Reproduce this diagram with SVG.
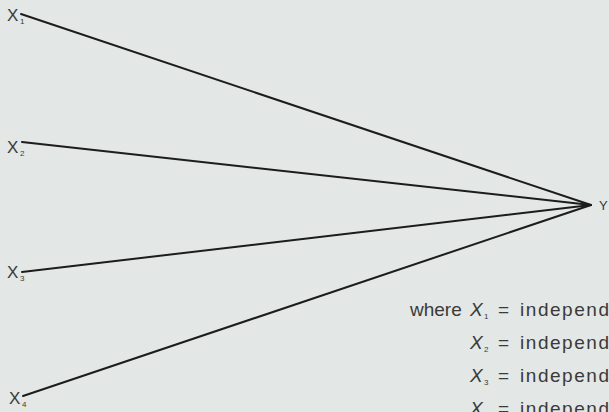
<svg xmlns="http://www.w3.org/2000/svg" width="609" height="412" viewBox="0 0 609 412">
<style>
.lbl{font-family:"Liberation Sans",Arial,sans-serif;fill:#3a3a3a;}
.big{font-size:17px;}
.leg{font-size:19px;}
.it{font-style:italic;}
.sub{font-size:8px;}
.conn line{stroke:#1c1c1c;stroke-width:2;stroke-linecap:round;}
</style>
<rect width="609" height="412" fill="#e3e7e5"/>
<g id="connectors" class="conn">
<line x1="21" y1="14" x2="591" y2="205"/>
<line x1="22" y1="142" x2="591" y2="205"/>
<line x1="22" y1="272" x2="591" y2="205"/>
<line x1="23" y1="396" x2="591" y2="205"/>
</g>
<g id="x1"><text class="lbl big" x="7" y="21">X</text><text class="lbl sub" x="20" y="24">1</text></g>
<g id="x2"><text class="lbl big" x="7" y="153">X</text><text class="lbl sub" x="20" y="156">2</text></g>
<g id="x3"><text class="lbl big" x="7" y="278">X</text><text class="lbl sub" x="20" y="281">3</text></g>
<g id="x4"><text class="lbl big" x="9" y="404">X</text><text class="lbl sub" x="22" y="407">4</text></g>
<g id="y"><text class="lbl" font-size="13" x="599" y="210">Y</text></g>
<g id="legend">
<text class="lbl leg" x="410" y="316">where</text>
<text class="lbl leg it" x="470" y="316">X</text><text class="lbl sub" x="484" y="319">1</text>
<text class="lbl leg" x="498" y="316">=</text>
<text class="lbl leg" x="520" y="316" textLength="89" lengthAdjust="spacing">independ</text>
<text class="lbl leg it" x="470" y="349">X</text><text class="lbl sub" x="484" y="352">2</text>
<text class="lbl leg" x="498" y="349">=</text>
<text class="lbl leg" x="520" y="349" textLength="89" lengthAdjust="spacing">independ</text>
<text class="lbl leg it" x="470" y="382">X</text><text class="lbl sub" x="484" y="385">3</text>
<text class="lbl leg" x="498" y="382">=</text>
<text class="lbl leg" x="520" y="382" textLength="89" lengthAdjust="spacing">independ</text>
<text class="lbl leg it" x="470" y="415">X</text><text class="lbl sub" x="484" y="418">4</text>
<text class="lbl leg" x="498" y="415">=</text>
<text class="lbl leg" x="520" y="415" textLength="89" lengthAdjust="spacing">independ</text>
</g>
</svg>
